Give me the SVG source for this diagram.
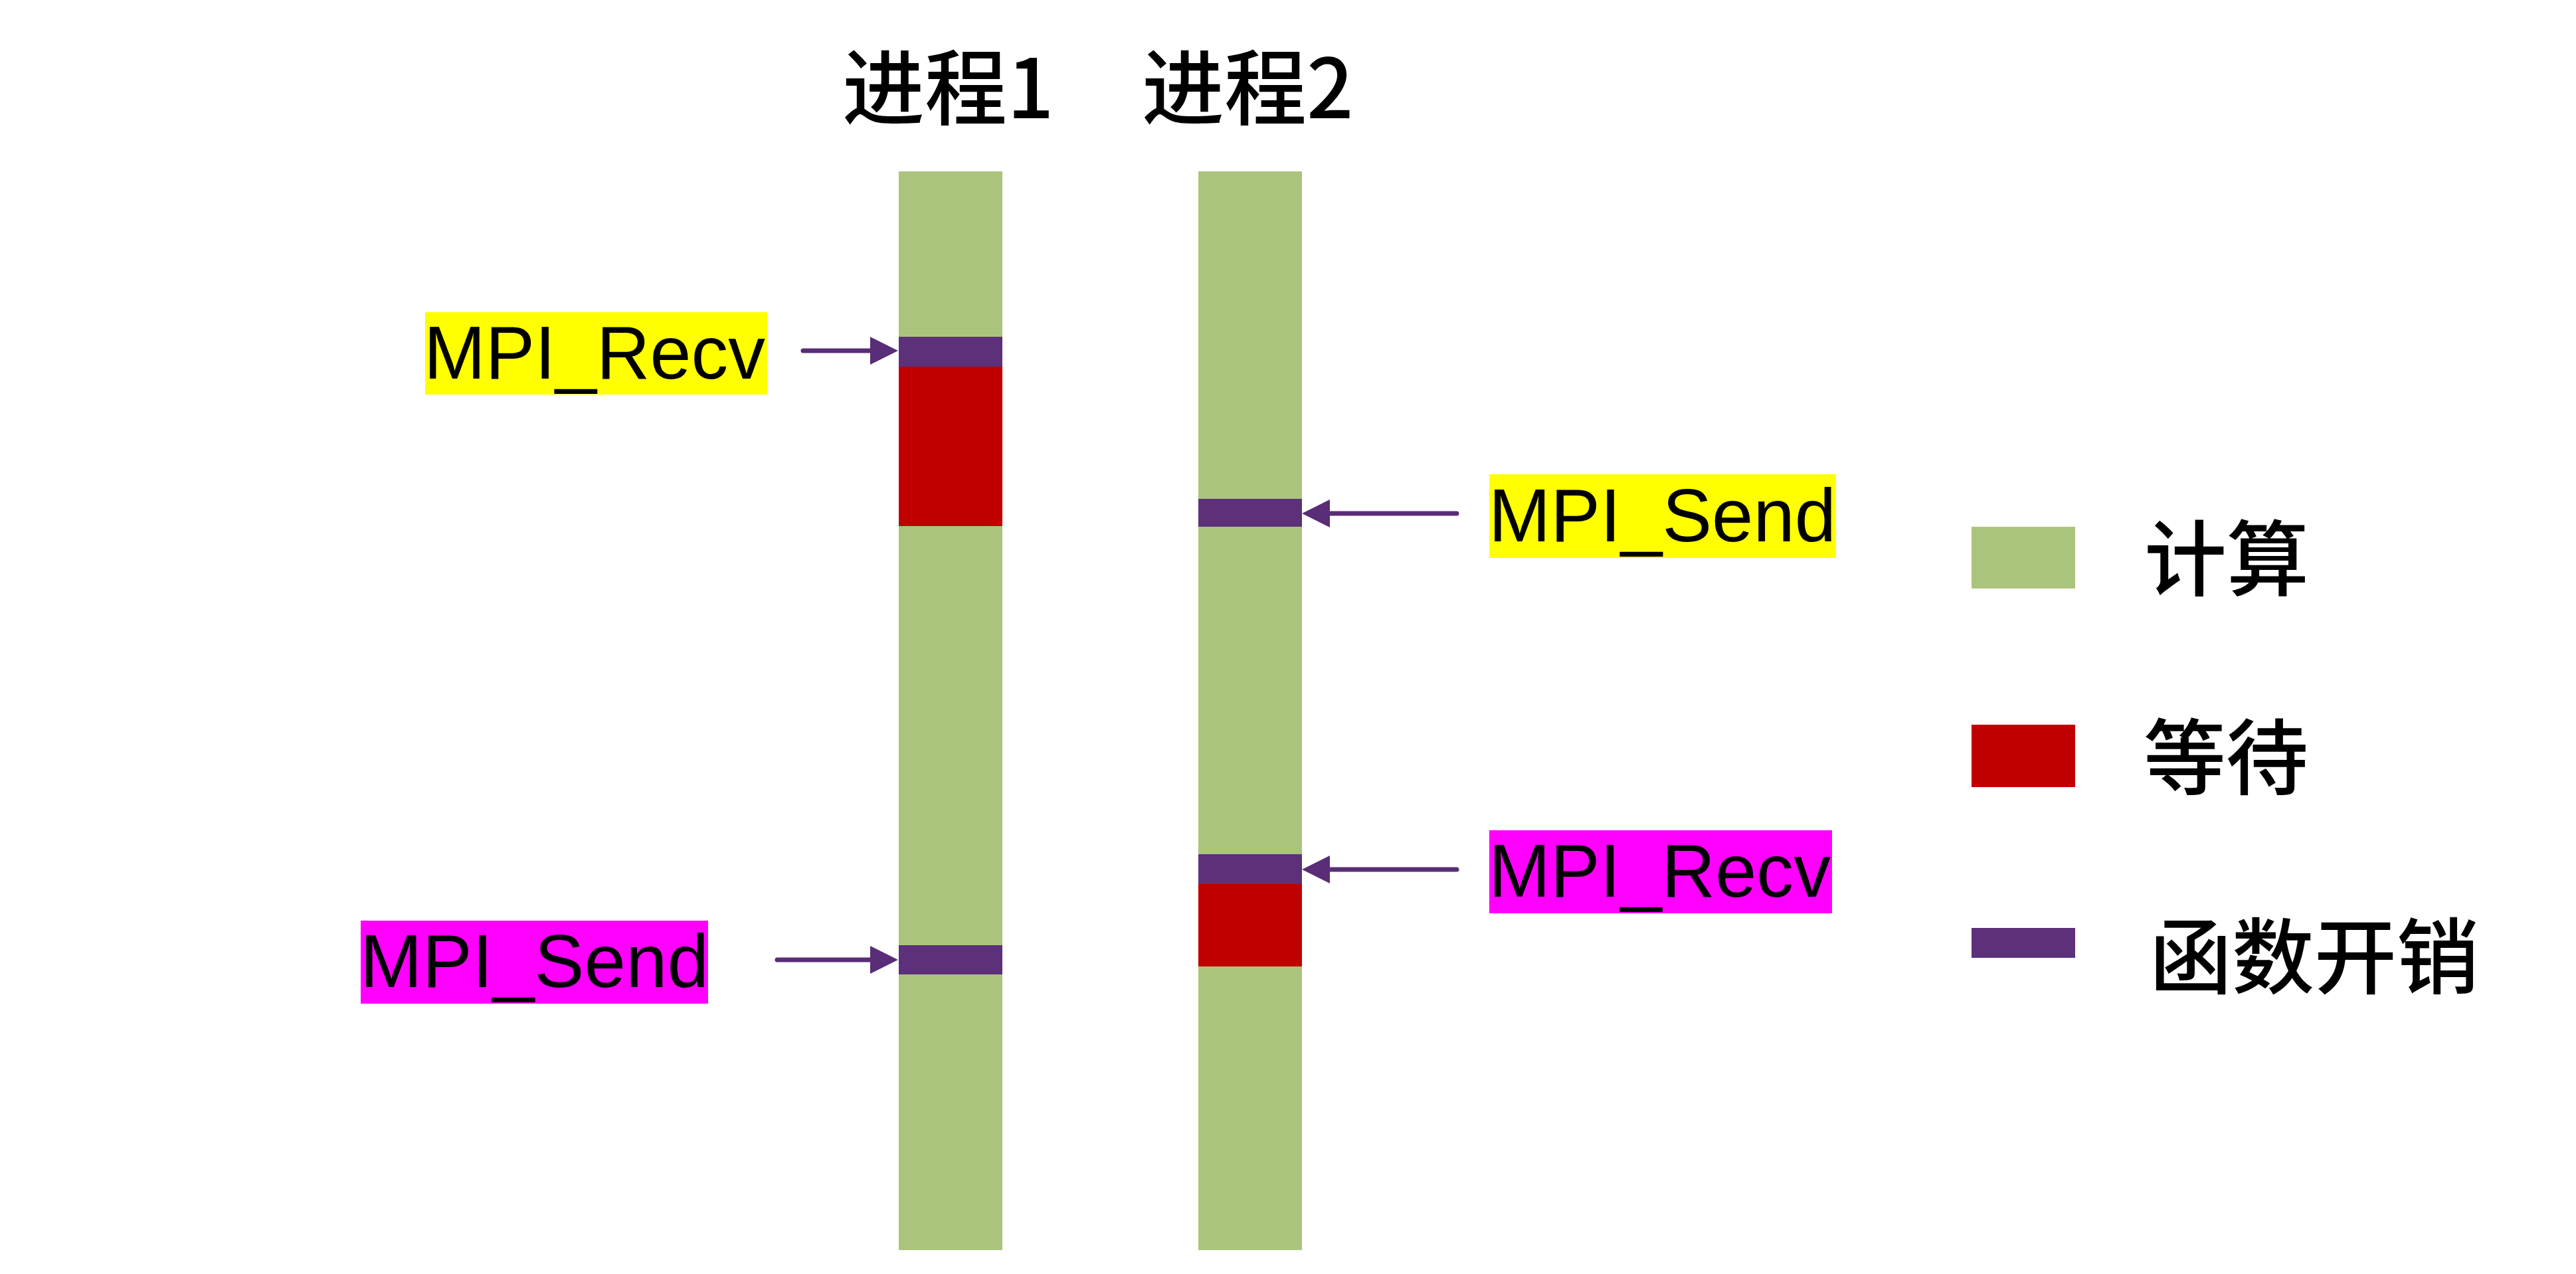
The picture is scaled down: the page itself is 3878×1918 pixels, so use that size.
<svg xmlns="http://www.w3.org/2000/svg" width="3878" height="1918" viewBox="0 0 3878 1918">
  <style>
    .comp { fill: #AAC47E; }
    .wait { fill: #C00000; }
    .func { fill: #5C3179; }
    .lbl { font-family: "Liberation Sans", Arial, sans-serif; font-size: 113px; fill: #000; }
    .cjk { font-family: "Noto Sans CJK SC", "Liberation Sans", sans-serif; font-size: 124px; font-weight: 500; fill: #000; }
    .conn { stroke: #592D77; stroke-width: 7; fill: none; stroke-linecap: round; }
  </style>
  <defs>
    <marker id="ah" markerUnits="userSpaceOnUse" markerWidth="44" markerHeight="42" refX="32" refY="21" orient="auto">
      <path d="M0,0 L42,21 L0,42 z" fill="#592D77"/>
    </marker>
  </defs>
  <rect width="3878" height="1918" fill="#FFFFFF"/>

  <g id="title1"><text class="cjk" x="1268" y="178">进程1</text></g>
  <g id="title2"><text class="cjk" x="1719" y="178">进程2</text></g>

  <g id="process1">
    <rect class="comp" x="1353" y="258" width="156" height="1624"/>
    <rect class="func" x="1353" y="507" width="156" height="45"/>
    <rect class="wait" x="1353" y="552" width="156" height="240"/>
    <rect class="func" x="1353" y="1423" width="156" height="44"/>
  </g>

  <g id="process2">
    <rect class="comp" x="1804" y="258" width="156" height="1624"/>
    <rect class="func" x="1804" y="751" width="156" height="42"/>
    <rect class="func" x="1804" y="1286" width="156" height="45"/>
    <rect class="wait" x="1804" y="1331" width="156" height="124"/>
  </g>

  <g id="label-recv1">
    <rect x="640" y="470" width="515" height="124" fill="#FFFF00"/>
    <text class="lbl" x="638" y="570" textLength="514" lengthAdjust="spacingAndGlyphs">MPI_Recv</text>
  </g>
  <g id="label-send2">
    <rect x="2242" y="714" width="522" height="126" fill="#FFFF00"/>
    <text class="lbl" x="2241" y="815" textLength="523" lengthAdjust="spacingAndGlyphs">MPI_Send</text>
  </g>
  <g id="label-send1">
    <rect x="543" y="1386" width="523" height="125" fill="#FF00FF"/>
    <text class="lbl" x="542" y="1486" textLength="525" lengthAdjust="spacingAndGlyphs">MPI_Send</text>
  </g>
  <g id="label-recv2">
    <rect x="2242" y="1250" width="516" height="125" fill="#FF00FF"/>
    <text class="lbl" x="2241" y="1350" textLength="515" lengthAdjust="spacingAndGlyphs">MPI_Recv</text>
  </g>

  <g id="connectors">
    <path class="conn" d="M1209,528 L1342,528" marker-end="url(#ah)"/>
    <path class="conn" d="M1170,1445 L1342,1445" marker-end="url(#ah)"/>
    <path class="conn" d="M2193,773 L1970,773" marker-end="url(#ah)"/>
    <path class="conn" d="M2193,1309 L1970,1309" marker-end="url(#ah)"/>
  </g>

  <g id="legend-compute">
    <rect class="comp" x="2968" y="793" width="156" height="93"/>
    <text class="cjk" x="3228" y="887">计算</text>
  </g>
  <g id="legend-wait">
    <rect class="wait" x="2968" y="1091" width="156" height="94"/>
    <text class="cjk" x="3227" y="1186">等待</text>
  </g>
  <g id="legend-func">
    <rect class="func" x="2968" y="1397" width="156" height="45"/>
    <text class="cjk" x="3236" y="1486">函数开销</text>
  </g>
</svg>
